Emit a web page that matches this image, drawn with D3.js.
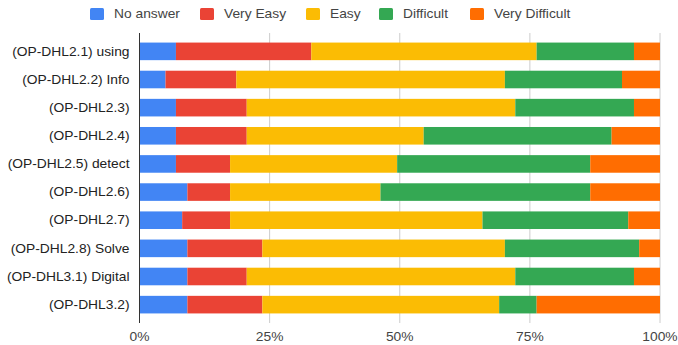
<!DOCTYPE html>
<html><head><meta charset="utf-8">
<script src="https://cdn.jsdelivr.net/npm/d3@7"></script>
<style>body{margin:0;background:#fff}svg{display:block;font-family:"Liberation Sans",Arial,sans-serif}</style>
</head><body><svg id="c" width="678" height="345"></svg>
<script>
const categories = ["(OP-DHL2.1) using","(OP-DHL2.2) Info","(OP-DHL2.3)","(OP-DHL2.4)","(OP-DHL2.5) detect","(OP-DHL2.6)","(OP-DHL2.7)","(OP-DHL2.8) Solve","(OP-DHL3.1) Digital","(OP-DHL3.2)"];
const seriesNames = ["No answer","Very Easy","Easy","Difficult","Very Difficult"];
const noAnswer      = [7.0, 5.0, 7.0, 7.0, 7.0, 9.2, 8.2, 9.2, 9.2, 9.2];
const veryEasy      = [26.0, 13.6, 13.6, 13.6, 10.4, 8.2, 9.2, 14.4, 11.4, 14.4];
const easy          = [43.3, 51.6, 51.6, 34.0, 32.1, 28.9, 48.5, 46.6, 51.6, 45.5];
const difficult     = [18.7, 22.5, 22.8, 36.1, 37.1, 40.3, 28.0, 25.8, 22.8, 7.2];
const veryDifficult = [5.0, 7.3, 5.0, 9.3, 13.4, 13.4, 6.1, 4.0, 5.0, 23.7];
const xTicks = [0, 25, 50, 75, 100];
const colors = ["#4285F4","#EA4335","#FBBC04","#34A853","#FF6D01"];

const SX = 1.15; // horizontal stretch of text, as in the reference
const svg = d3.select("#c");
const x = d3.scaleLinear().domain([0,100]).range([139.5,660]);
const y = d3.scaleBand().domain(categories).range([33,323]).paddingInner(0.375).paddingOuter(0.34);

const rows = categories.map((c,i)=>({cat:c, "No answer":noAnswer[i], "Very Easy":veryEasy[i], "Easy":easy[i], "Difficult":difficult[i], "Very Difficult":veryDifficult[i]}));
const stack = d3.stack().keys(seriesNames)(rows);

// grid
svg.append("g").selectAll("line").data(xTicks.filter(t=>t>0)).join("line")
  .attr("x1",d=>x(d)).attr("x2",d=>x(d)).attr("y1",33).attr("y2",323)
  .attr("stroke","#cccccc").attr("stroke-width",1);

// bars
svg.append("g").selectAll("g").data(stack).join("g").attr("fill",(d,i)=>colors[i])
  .selectAll("rect").data(d=>d).join("rect")
  .attr("x",d=>x(d[0])).attr("width",d=>x(d[1])-x(d[0]))
  .attr("y",d=>y(d.data.cat)).attr("height",y.bandwidth());

// zero axis
svg.append("line").attr("x1",x(0)).attr("x2",x(0)).attr("y1",33).attr("y2",323).attr("stroke","#333").attr("stroke-width",1);

// y labels
svg.append("g").selectAll("text").data(categories).join("text")
  .attr("transform",d=>`translate(129.5,${y(d)+y.bandwidth()/2}) scale(${SX},1)`).attr("dy","0.35em")
  .attr("text-anchor","end").attr("font-size",12).attr("fill","#222").text(d=>d);

// x labels
svg.append("g").selectAll("text").data(xTicks).join("text")
  .attr("transform",d=>`translate(${x(d)},341) scale(${SX},1)`).attr("text-anchor","middle")
  .attr("font-size",12).attr("fill","#444").text(d=>d+"%");

// legend
const legX = [90,200,306,379,470];
const leg = svg.append("g").selectAll("g").data(seriesNames).join("g")
  .attr("transform",(d,i)=>`translate(${legX[i]},8)`);
leg.append("rect").attr("width",14).attr("height",12).attr("rx",1.5).attr("fill",(d,i)=>colors[i]);
leg.append("text").attr("transform",`translate(24,6) scale(${SX},1)`).attr("dy","0.35em")
  .attr("font-size",12).attr("fill","#444").text(d=>d);
</script></body></html>
